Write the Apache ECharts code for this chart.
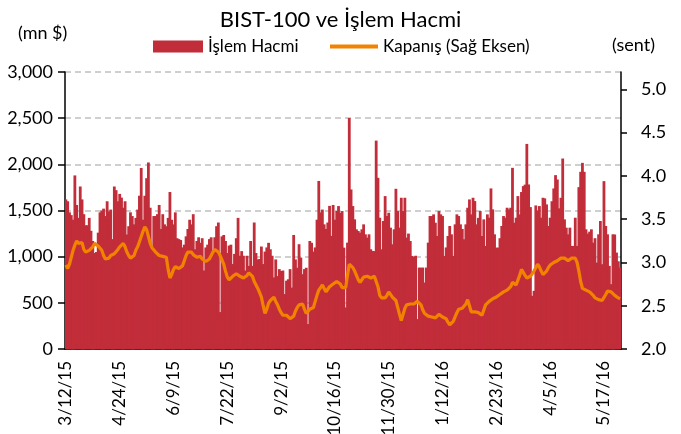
<!DOCTYPE html>
<html>
<head>
<meta charset="utf-8">
<script src="https://cdn.jsdelivr.net/npm/echarts@6/dist/echarts.min.js"></script>
<style>html,body{margin:0;padding:0;background:#fff}#c{width:681px;height:434px}</style>
</head>
<body>
<div id="c"></div>
<script>
var tickLabels = ['3/12/15','4/24/15','6/9/15','7/22/15','9/2/15','10/16/15','11/30/15','1/12/16','2/23/16','4/5/16','5/17/16'];
var volume = [
1620,1600,1480,1450,1400,1880,1560,1420,1760,1620,
1460,1340,1340,1420,1280,1170,1040,1050,1260,1480,
1500,1520,1440,1600,1490,1510,1190,1760,1720,1600,
1680,1640,1530,1600,1240,1330,1480,1440,1350,1420,
1510,1660,1960,1400,1660,1850,2020,1530,1100,1440,
1440,1460,1560,1300,1460,1350,1330,1420,1700,1400,
1350,1480,1200,1190,1180,1100,1130,1220,1300,1400,
1350,1460,1080,1170,1210,1150,1200,850,1100,1130,
1190,1210,1040,1210,1330,1370,400,1220,1235,1170,
1040,1120,1130,920,1030,1200,1420,1010,1060,1010,
850,1010,900,1170,900,1370,1040,970,975,1110,
920,1055,1100,1150,1080,1010,775,970,790,865,
845,850,595,740,755,865,665,1235,970,880,
1135,990,810,865,880,270,1170,1150,1055,1100,
1400,1820,1480,1510,1350,1300,1370,1550,1225,1560,
1400,1495,1548,1476,1494,1098,450,1152,2502,1728,
1548,1404,1296,1278,1260,1296,1350,1242,1206,1242,
1080,1062,1060,2257,1854,1422,1080,1386,1656,1440,
1476,1314,1134,1296,1735,1494,1314,1638,1494,1638,
1206,1250,1170,1008,1000,1010,324,882,880,882,
720,882,1152,1440,1440,1458,1368,1224,1494,1458,
1440,1008,1100,1224,1332,1242,1008,1350,1458,1440,
1350,1300,1188,1350,1530,1620,1458,1638,1602,1350,
1420,1494,1224,1404,1116,1458,1422,1739,1512,1242,
1098,1098,1200,1332,1440,1422,1530,1512,1530,1962,
1368,1422,1656,1458,1700,1764,1780,2221,1782,1537,
576,630,1555,1500,1548,1422,1638,1631,1566,1332,
1422,1600,1739,1883,1836,1523,1638,2063,1404,1314,
1242,1314,1116,1116,1422,1116,1753,1919,2016,1919,
1296,1250,1271,1296,1152,1200,936,1242,1386,918,
1818,1332,1242,900,702,1242,1240,1044,950,882
];
var closePrice = [
2.97,2.93,2.98,3.06,3.14,3.20,3.25,3.22,3.24,3.23,
3.15,3.12,3.10,3.14,3.12,3.18,3.22,3.21,3.19,3.19,
3.14,3.08,3.04,3.02,3.05,3.08,3.06,3.10,3.12,3.15,
3.18,3.20,3.22,3.18,3.12,3.08,3.05,3.04,3.08,3.14,
3.18,3.24,3.30,3.36,3.41,3.38,3.30,3.22,3.17,3.15,
3.12,3.10,3.08,3.10,3.07,3.05,3.06,2.92,2.82,2.86,
2.92,2.95,2.97,2.93,2.91,2.96,3.02,3.08,3.12,3.14,
3.12,3.09,3.07,3.06,3.05,3.07,3.04,3.03,3.01,3.03,
3.04,3.08,3.12,3.15,3.16,3.12,3.08,3.06,2.98,2.90,
2.83,2.80,2.81,2.84,2.86,2.87,2.85,2.84,2.83,2.82,
2.82,2.85,2.88,2.89,2.84,2.78,2.74,2.70,2.65,2.60,
2.50,2.41,2.46,2.53,2.56,2.58,2.60,2.55,2.51,2.46,
2.42,2.39,2.39,2.39,2.37,2.35,2.33,2.38,2.44,2.48,
2.51,2.53,2.52,2.46,2.41,2.43,2.46,2.48,2.48,2.55,
2.62,2.68,2.71,2.74,2.70,2.66,2.69,2.72,2.74,2.75,
2.77,2.78,2.79,2.75,2.71,2.70,2.71,2.85,2.98,2.97,
2.94,2.90,2.85,2.80,2.77,2.80,2.83,2.85,2.84,2.83,
2.82,2.83,2.84,2.83,2.72,2.62,2.59,2.59,2.59,2.62,
2.66,2.63,2.60,2.58,2.56,2.48,2.40,2.33,2.40,2.47,
2.51,2.50,2.52,2.53,2.52,2.54,2.55,2.55,2.51,2.45,
2.41,2.39,2.38,2.37,2.37,2.38,2.36,2.37,2.40,2.39,
2.37,2.35,2.35,2.31,2.28,2.27,2.32,2.37,2.42,2.46,
2.48,2.47,2.47,2.52,2.57,2.50,2.43,2.44,2.43,2.42,
2.42,2.40,2.39,2.45,2.51,2.53,2.55,2.57,2.58,2.59,
2.60,2.61,2.63,2.65,2.66,2.67,2.68,2.68,2.72,2.77,
2.76,2.74,2.75,2.85,2.92,2.90,2.85,2.82,2.83,2.84,
2.85,2.90,2.94,2.98,2.95,2.90,2.86,2.85,2.90,2.94,
2.97,2.99,3.00,3.01,3.02,3.04,3.05,3.04,3.05,3.03,
3.02,3.04,3.05,3.04,3.05,3.00,2.90,2.78,2.70,2.69,
2.68,2.68,2.66,2.64,2.62,2.59,2.58,2.57,2.56,2.56,
2.58,2.63,2.67,2.68,2.66,2.64,2.62,2.61,2.59,2.58
];
var labelStep = 30;
var categories = volume.map(function (v, i) {
  return i % labelStep === 0 ? (tickLabels[i / labelStep] || '') : '';
});

var FONT = 'Lato';
var BAR = '#C22D3A';
var chart = echarts.init(document.getElementById('c'), null, {renderer: 'canvas'});
chart.setOption({
  animation: false,
  backgroundColor: '#fff',
  textStyle: {fontFamily: FONT, color: '#000'},
  title: {
    text: 'BIST-100 ve İşlem Hacmi', left: 'center', top: 4,
    textStyle: {fontFamily: FONT, fontSize: 22, fontWeight: 'normal', color: '#000'}
  },
  graphic: [
    {type: 'text', left: 18, top: 24, style: {text: '(mn $)', fontFamily: FONT, fontSize: 18, fill: '#000'}},
    {type: 'text', left: 612, top: 36, style: {text: '(sent)', fontFamily: FONT, fontSize: 18, fill: '#000'}}
  ],
  legend: [
    {
      data: [{name: 'İşlem Hacmi', icon: 'rect'}],
      left: 153, top: 38, padding: 0, itemWidth: 50, itemHeight: 12, itemGap: 4,
      textStyle: {fontFamily: FONT, fontSize: 17, color: '#000'}
    },
    {
      data: [{name: 'Kapanış (Sağ Eksen)', icon: 'rect'}],
      left: 330, top: 38, padding: 0, itemWidth: 48, itemHeight: 4,
      textStyle: {fontFamily: FONT, fontSize: 17, color: '#000'}
    }
  ],
  grid: {left: 65, right: 60, top: 72, bottom: 85, containLabel: false, outerBoundsMode: 'none'},
  xAxis: {
    type: 'category',
    data: categories,
    boundaryGap: true,
    axisLine: {lineStyle: {color: '#000', width: 1.5}},
    axisTick: {interval: labelStep - 1, length: 6, lineStyle: {color: '#000', width: 1.5}},
    axisLabel: {interval: labelStep - 1, rotate: 90, margin: 12, fontSize: 17, fontFamily: FONT, color: '#000'},
    splitLine: {show: false}
  },
  yAxis: [
    {
      type: 'value', min: 0, max: 3000, interval: 500,
      axisLine: {show: true, lineStyle: {color: '#000', width: 1.5}},
      axisTick: {show: true, length: 7, lineStyle: {color: '#000', width: 1.5}},
      axisLabel: {margin: 12, fontSize: 18, fontFamily: FONT, color: '#000',
        formatter: function (v) { return v.toLocaleString('en-US'); }},
      splitLine: {show: true, lineStyle: {color: '#c0c0c0', type: [6, 4], width: 1.5}}
    },
    {
      type: 'value', min: 2, max: 5.2, interval: 0.5, position: 'right',
      axisLine: {show: true, lineStyle: {color: '#000', width: 1.5}},
      axisTick: {show: true, length: 6, inside: false, customValues: [2, 2.5, 3, 3.5, 4, 4.5, 5], lineStyle: {color: '#000', width: 1.5}},
      axisLabel: {margin: 20, fontSize: 18, fontFamily: FONT, color: '#000',
        customValues: [2, 2.5, 3, 3.5, 4, 4.5, 5],
        formatter: function (v) { return v > 5.05 ? '' : v.toFixed(1); }},
      splitLine: {show: false}
    }
  ],
  series: [
    {
      name: 'İşlem Hacmi', type: 'bar', data: volume,
      barWidth: 2.8, barGap: '-100%',
      itemStyle: {color: BAR}, z: 2
    },
    {
      name: 'Kapanış (Sağ Eksen)', type: 'line', yAxisIndex: 1, data: closePrice,
      showSymbol: false, symbol: 'none',
      lineStyle: {color: '#F28300', width: 3.2},
      itemStyle: {color: '#F28300'}, z: 5
    }
  ]
});
</script>
</body>
</html>
